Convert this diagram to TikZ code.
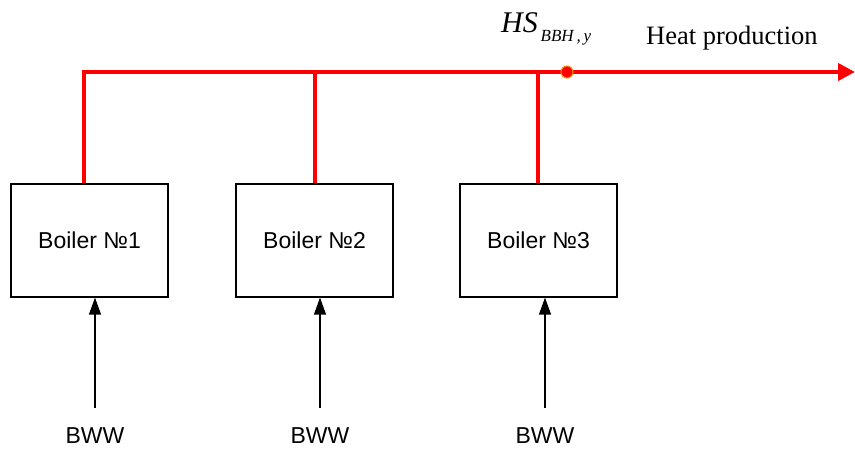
\documentclass[tikz,border=0pt]{standalone}
\usepackage{fontspec}
\setmainfont{Liberation Serif}
\setsansfont{Liberation Sans}
\usetikzlibrary{arrows.meta}
\definecolor{heatred}{RGB}{255,0,0}
\definecolor{dotedge}{RGB}{255,140,0}
\tikzset{
  boiler/.style={draw=black, line width=1.2pt, minimum width=157pt, minimum height=113pt, inner sep=0pt,
                 font=\sffamily\fontsize{23}{23}\selectfont},
  bww/.style={font=\sffamily\fontsize{23}{23}\selectfont, inner sep=0pt},
  feed/.style={draw=black, line width=1.2pt, -{Triangle[length=17pt,width=12pt]}},
  heat/.style={draw=heatred, line width=4pt},
  heatarrow/.style={heat, -{Triangle[length=17pt,width=17pt]}},
}
\begin{document}
\begin{tikzpicture}[x=1pt,y=-1pt]
\useasboundingbox (0,0) rectangle (855,449);
% boilers
\node[boiler] (b1) at (89.5,240.5) {Boiler №1};
\node[boiler] (b2) at (314.5,240.5) {Boiler №2};
\node[boiler] (b3) at (538.5,240.5) {Boiler №3};
% BWW labels
\node[bww, anchor=base] (w1) at (95,443) {BWW};
\node[bww, anchor=base] (w2) at (320,443) {BWW};
\node[bww, anchor=base] (w3) at (545,443) {BWW};
\coordinate (s1) at (95,408);
\coordinate (s2) at (320,408);
\coordinate (s3) at (545,408);
\draw[feed] (s1) -- (s1 |- b1.south);
\draw[feed] (s2) -- (s2 |- b2.south);
\draw[feed] (s3) -- (s3 |- b3.south);
% heat header
\coordinate (t1) at (84,72);
\coordinate (t2) at (315,72);
\coordinate (t3) at (538,72);
\coordinate (hend) at (855,72);
\draw[heat, line join=miter] (t1 |- b1.north) -- (t1) -- (t2);
\draw[heatarrow] (t2) -- (hend);
\draw[heat] (t2 |- b2.north) -- (t2);
\draw[heat] (t3 |- b3.north) -- (t3);
\node[circle, fill=heatred, draw=dotedge, line width=1pt, minimum size=12pt, inner sep=0pt] (dot) at (567,72) {};
% labels
\node[anchor=base west, inner sep=0pt] (hs) at (501,33)
  {\fontsize{30}{30}\selectfont\itshape HS\raisebox{-9pt}{\fontsize{17}{17}\selectfont\itshape\,BBH\,,\,y}};
\node[anchor=base west, inner sep=0pt, font=\fontsize{26.5}{26.5}\selectfont] (hp) at (646,45) {Heat production};
\end{tikzpicture}
\end{document}
